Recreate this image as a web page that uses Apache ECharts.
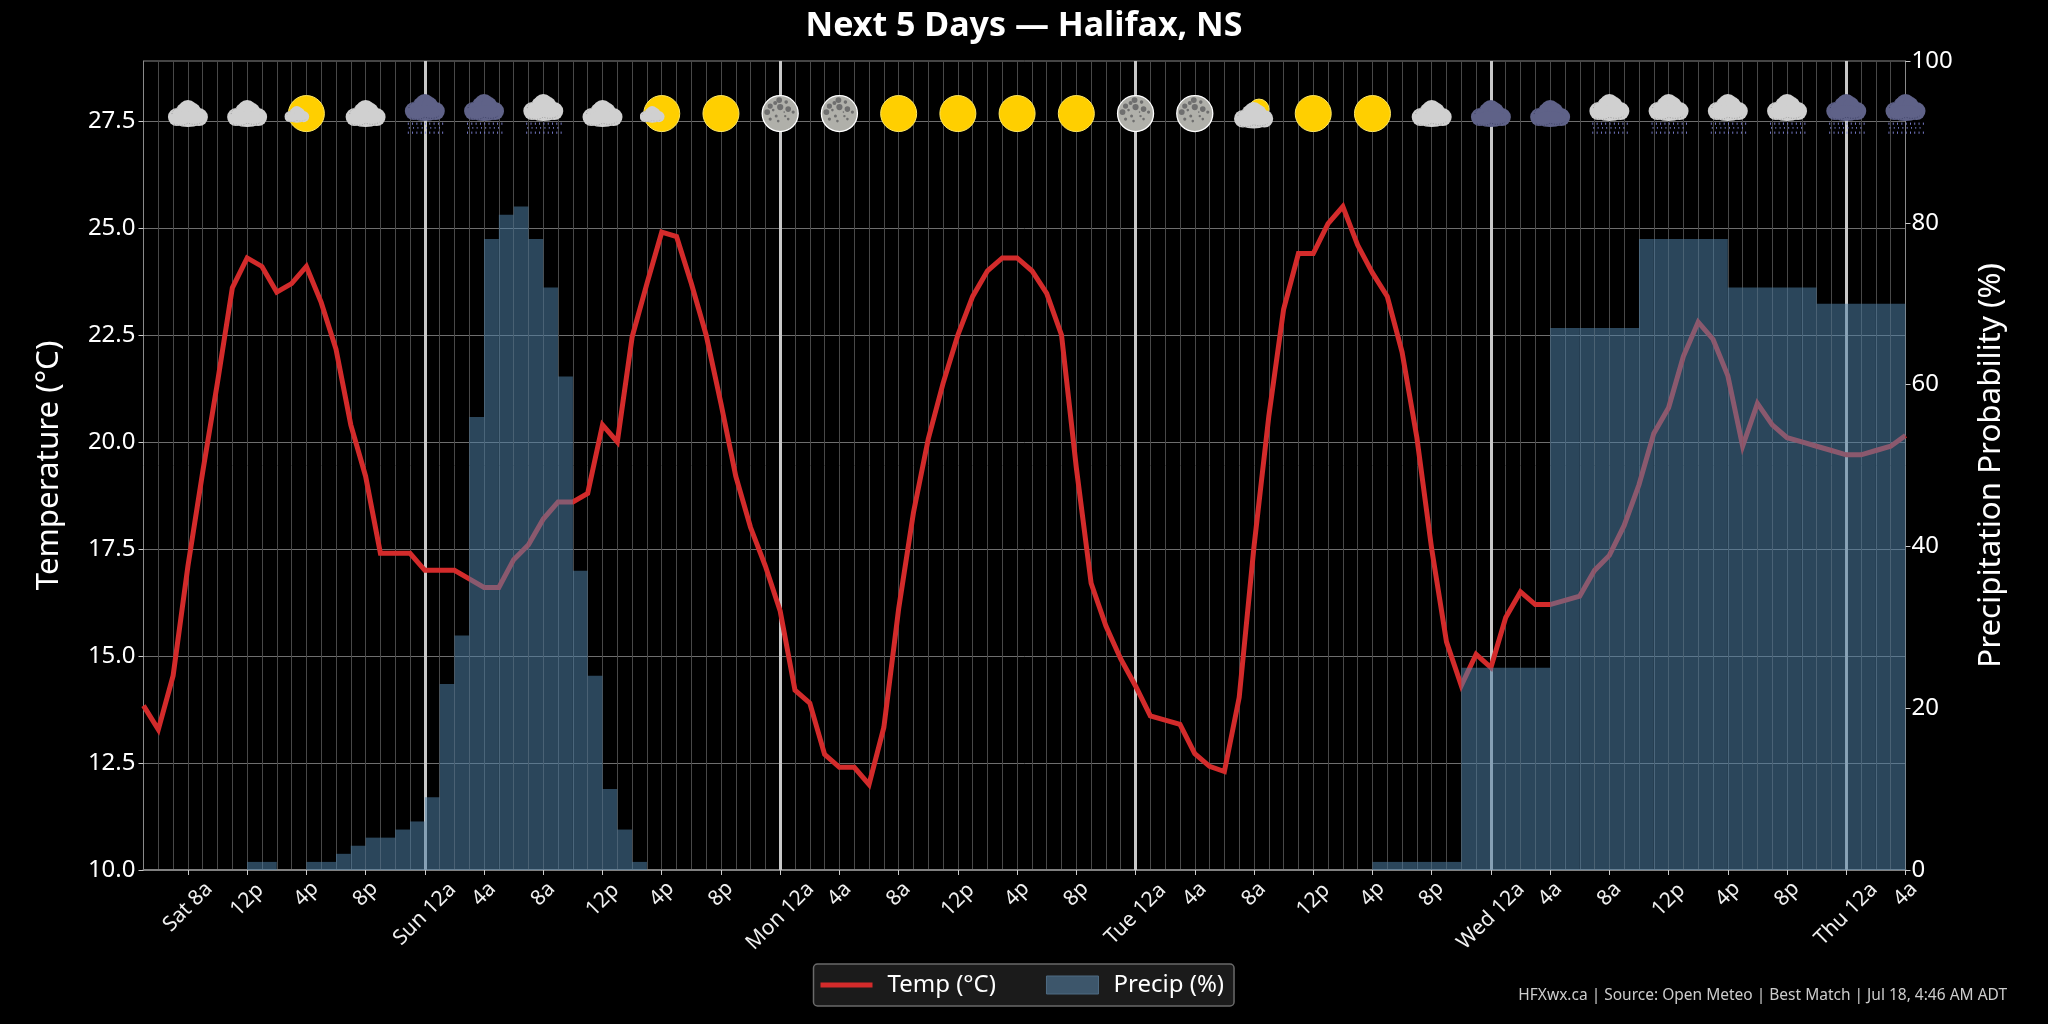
<!DOCTYPE html>
<html>
<head>
<meta charset="utf-8">
<style>html,body{margin:0;padding:0;background:#000}#c{width:2048px;height:1024px}</style>
<script src="https://cdn.jsdelivr.net/npm/echarts@6/dist/echarts.min.js"></script>
</head>
<body>
<div id="c"></div>
<script>
const tickLabels = ['Sat 8a','12p','4p','8p','Sun 12a','4a','8a','12p','4p','8p','Mon 12a','4a','8a','12p','4p','8p','Tue 12a','4a','8a','12p','4p','8p','Wed 12a','4a','8a','12p','4p','8p','Thu 12a','4a'];
const dayLineHours = [19,43,67,91,115];
const tempTicks = [10,12.5,15,17.5,20,22.5,25,27.5];
const temps = [13.84,13.28,14.54,17.1,19.3,21.4,23.6,24.3,24.1,23.5,23.7,24.1,23.26,22.17,20.4,19.2,17.4,17.4,17.4,17.0,
17.0,17.0,16.8,16.6,16.6,17.25,17.6,18.2,18.6,18.6,18.8,20.4,20.0,22.45,23.7,24.9,24.8,23.7,22.5,20.9,
19.2,18.0,17.1,16.05,14.2,13.9,12.7,12.4,12.4,12.0,13.33,16.1,18.35,20.07,21.37,22.5,23.4,24.0,24.3,24.3,
24.0,23.47,22.5,19.4,16.7,15.7,14.93,14.3,13.6,13.5,13.4,12.72,12.42,12.3,14.03,17.56,20.6,23.1,24.4,24.4,
25.1,25.5,24.6,23.95,23.4,22.1,20.1,17.5,15.33,14.31,15.04,14.73,15.9,16.5,16.2,16.2,16.3,16.4,17.0,17.35,
18.05,19.0,20.2,20.8,22.0,22.8,22.4,21.55,19.9,20.9,20.4,20.1,20.0,19.9,19.8,19.7,19.7,19.8,19.9,20.15];
const precip = [0,0,0,0,0,0,0,1,1,0,0,1,1,2,3,4,4,5,6,9,
23,29,56,78,81,82,78,72,61,37,24,10,5,1,0,0,0,0,0,0,
0,0,0,0,0,0,0,0,0,0,0,0,0,0,0,0,0,0,0,0,
0,0,0,0,0,0,0,0,0,0,0,0,0,0,0,0,0,0,0,0,
0,0,0,1,1,1,1,1,1,25,25,25,25,25,25,67,67,67,67,67,
67,78,78,78,78,78,78,72,72,72,72,72,72,70,70,70,70,70,70];
const iconKinds = ['cloud','cloud','partsun','cloud','darkrain','darkrain','lightrain','cloud','partsun','sun',
'moon','moon','sun','sun','sun','sun','moon','moon','mostcloud','sun',
'sun','cloud','dark','dark','lightrain','lightrain','lightrain','lightrain','darkrain','darkrain'];
const iconRowTemp = 27.66;

const hourCategories = temps.map((_, i) => (i % 4 === 3 ? tickLabels[(i - 3) / 4] : ''));
const barCategories = precip.map((_, i) => String(i));

// ---- weather icons (small SVGs used as scatter symbols) ----
function cloud(dy, fill, scale, dx) {
  const s = scale || 1, x = (dx === undefined ? 2 : dx);
  const detail = fill === '#d0d0d0' ? '#8a8a8a' : '#2f3258';
  return `<g transform="translate(${x} ${dy}) scale(${s})"><g fill="${fill}">
<circle cx="9" cy="17" r="9"/><circle cx="31" cy="17" r="9"/><circle cx="20" cy="9.5" r="9.5"/><circle cx="16" cy="11" r="8"/><circle cx="25" cy="11" r="8"/><ellipse cx="20" cy="19" rx="16" ry="8"/></g>
<path d="M4 14 Q5 8 11 8 M6 24 Q14 27 20 23 Q28 26 34 22" fill="none" stroke="${detail}" stroke-width="0.7" stroke-dasharray="1 1.6"/></g>`;
}
function rain() {
  let out = '';
  [30.5, 35, 39.5].forEach((y, r) => {
    for (let x = 5 + r % 2; x < 40; x += 4.3) {
      out += `<rect x="${x}" y="${y}" width="0.9" height="${r === 1 ? 1.6 : 2.2}" fill="#8185d8"/>`;
    }
  });
  return out;
}
function sun(cx, cy, r) {
  return `<circle cx="${cx}" cy="${cy}" r="${r}" fill="#ffcf00" stroke="#ffe860" stroke-width="1"/>`;
}
function moon() {
  const craters = [[12,14,2.6],[17,11,2],[21,8,2.9],[15,18,1.3],[22,15,3.1],[28,10,1.8],[30,17,2.8],[35,20,1.6],[9,20,2.9],[18,24,1.5],[27,24,1.2],[12,27,1.6],[20,29,1.3],[30,27,1.3],[26,20,0.8]];
  return `<circle cx="22" cy="21.5" r="18" fill="#b0b0aa" stroke="#ffffff" stroke-width="1.3"/>` +
    craters.map(c => `<circle cx="${c[0]}" cy="${c[1]}" r="${c[2]}" fill="#6f6f6f"/>`).join('');
}
const iconBodies = {
  cloud: () => cloud(8, '#d0d0d0'),
  dark: () => cloud(8, '#5f6288'),
  lightrain: () => cloud(2, '#d0d0d0') + rain(),
  darkrain: () => cloud(2, '#5f6288') + rain(),
  sun: () => sun(22, 21.5, 18),
  moon: moon,
  partsun: () => sun(22, 21.5, 18) + cloud(14, '#d0d0d0', 0.62, 0),
  mostcloud: () => sun(27, 17, 10) + cloud(10, '#d0d0d0', 0.98)
};
function iconSymbol(kind) {
  const svg = `<svg xmlns="http://www.w3.org/2000/svg" width="44" height="44" viewBox="0 0 44 44">${iconBodies[kind]()}</svg>`;
  return 'image://data:image/svg+xml;charset=utf-8,' + encodeURIComponent(svg);
}

// ---- layout ----
const labelFont = '"Noto Sans", "Open Sans", sans-serif';
const labelGroups = [
  { test: t => t.length === 2, margin: 24 },
  { test: t => t.length === 3, margin: 30 },
  { test: t => t.length === 6, margin: 37 },
  { test: t => /^(Sun|Tue|Thu)/.test(t), margin: 44 },
  { test: t => /^(Mon|Wed)/.test(t), margin: 46 }
];
const labelAxes = labelGroups.map(g => ({
  type: 'category', gridIndex: 0, position: 'bottom', boundaryGap: false, data: hourCategories,
  axisLine: { show: false }, axisTick: { show: false }, splitLine: { show: false },
  axisLabel: {
    show: true, rotate: 45, align: 'center', verticalAlign: 'middle', margin: g.margin,
    color: '#f0f0f0', fontFamily: labelFont, fontSize: 21,
    interval: (i, v) => v !== '' && g.test(v)
  }
}));

const chart = echarts.init(document.getElementById('c'), null, { renderer: 'canvas' });
chart.setOption({
  animation: false,
  backgroundColor: '#000000',
  title: [
    { text: 'Next 5 Days — Halifax, NS', left: 'center', top: 4,
      textStyle: { color: '#ffffff', fontFamily: labelFont, fontWeight: 'bold', fontSize: 34 } },
    { text: 'HFXwx.ca | Source: Open Meteo | Best Match | Jul 18, 4:46 AM ADT', right: 41, top: 988, padding: 0,
      textStyle: { color: '#cccccc', fontFamily: labelFont, fontWeight: 'normal', fontSize: 15.5 } }
  ],
  legend: {
    left: 813.5, top: 964, orient: 'horizontal', padding: [9, 10, 9, 7], itemGap: 50,
    itemWidth: 52, itemHeight: 18,
    backgroundColor: '#1b1b1b', borderColor: '#6a6a6a', borderWidth: 1.5, borderRadius: 4,
    textStyle: { color: '#ffffff', fontFamily: labelFont, fontSize: 24, padding: [0, 0, 0, 10] },
    data: [
      { name: 'Temp (°C)', icon: 'path://M0 0H52V5H0Z', itemStyle: { color: '#d32b2b' } },
      { name: 'Precip (%)', icon: 'rect', itemStyle: { color: '#3d566b', borderColor: '#4f6b82', borderWidth: 1 } }
    ]
  },
  grid: { left: 143.5, right: 142.5, top: 61, bottom: 154, show: true, borderColor: '#8a8a8a', borderWidth: 1, backgroundColor: '#000' },
  xAxis: [
    {
      type: 'category', gridIndex: 0, position: 'bottom', boundaryGap: false, data: hourCategories,
      axisLine: { show: true, lineStyle: { color: '#808080', width: 2 } },
      axisTick: { show: true, length: 5, interval: (i, v) => v !== '', lineStyle: { color: '#cccccc', width: 1 } },
      axisLabel: { show: false },
      splitLine: { show: true, interval: 0, lineStyle: { color: '#484848', width: 1 } }
    },
    { type: 'category', gridIndex: 0, position: 'bottom', boundaryGap: true, data: barCategories, show: false },
    ...labelAxes
  ],
  yAxis: [
    {
      type: 'value', min: 10, max: 28.9, position: 'left',
      name: 'Temperature (°C)', nameLocation: 'middle', nameGap: 79,
      nameTextStyle: { color: '#ffffff', fontFamily: labelFont, fontSize: 31.3 },
      axisLine: { show: true, lineStyle: { color: '#8a8a8a', width: 1 } },
      axisTick: { show: true, length: 5, customValues: tempTicks, lineStyle: { color: '#cccccc' } },
      axisLabel: { show: true, margin: 8, padding: [6, 0, 0, 0], customValues: tempTicks, color: '#ffffff', fontFamily: labelFont, fontSize: 24, formatter: v => v.toFixed(1) },
      splitLine: { show: true, lineStyle: { color: '#6e6e6e', width: 1 } }
    },
    {
      type: 'value', min: 0, max: 100, interval: 20, position: 'right',
      name: 'Precipitation Probability (%)', nameLocation: 'middle', nameGap: 70, nameRotate: 90,
      nameTextStyle: { color: '#ffffff', fontFamily: labelFont, fontSize: 31.3 },
      axisLine: { show: true, lineStyle: { color: '#8a8a8a', width: 1 } },
      axisTick: { show: true, length: 5, lineStyle: { color: '#cccccc' } },
      axisLabel: { show: true, margin: 6, padding: [6, 0, 0, 0], color: '#ffffff', fontFamily: labelFont, fontSize: 24 },
      splitLine: { show: false }
    }
  ],
  series: [
    {
      name: 'Temp (°C)', type: 'line', xAxisIndex: 0, yAxisIndex: 0, data: temps, z: 3,
      showSymbol: false, symbol: 'none', silent: true,
      lineStyle: { color: '#d32b2b', width: 5, join: 'miter' }, itemStyle: { color: '#d32b2b' },
      markLine: {
        silent: true, symbol: 'none', z: 2, label: { show: false },
        lineStyle: { color: '#c8c8c8', width: 3, type: 'solid' },
        data: dayLineHours.map(h => ({ xAxis: h }))
      }
    },
    {
      name: 'Precip (%)', type: 'bar', xAxisIndex: 1, yAxisIndex: 1, data: precip, z: 4,
      barWidth: '100%', barCategoryGap: '0%', silent: true,
      itemStyle: { color: 'rgba(78,127,165,0.55)' }
    },
    {
      name: 'icons', type: 'scatter', xAxisIndex: 0, yAxisIndex: 0, z: 6, clip: false, silent: true,
      symbolSize: 44, itemStyle: { opacity: 1 },
      data: iconKinds.map((k, n) => ({ value: [4 * n + 3, iconRowTemp], symbol: iconSymbol(k) }))
    }
  ]
});
</script>
</body>
</html>
